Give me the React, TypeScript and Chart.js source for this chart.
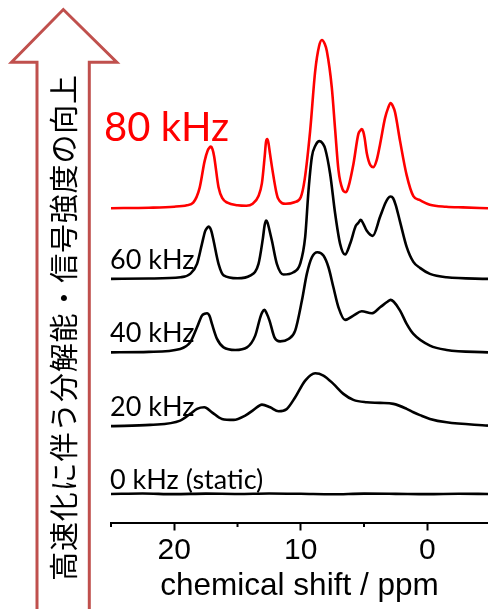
import React, { useEffect, useRef } from 'react';
import { Chart, registerables } from 'chart.js';

Chart.register(...registerables);

// chemical shift (ppm) and intensity (a.u., relative to each trace's baseline)
const ppm80 = [25, 22, 20, 19, 18.5, 18.0, 17.6, 17.35, 17.22, 17.1, 16.98, 16.85, 16.5, 16.2, 15.8, 15.0, 14.3, 13.8, 13.35, 13.07, 12.85, 12.75, 12.65, 12.55, 12.45, 12.23, 11.95, 11.8, 11.2, 10.5, 10.0, 9.7, 9.26, 8.86, 8.55, 8.33, 8.1, 7.94, 7.55, 7.28, 7.02, 6.7, 6.42, 6.24, 5.84, 5.45, 5.3, 5.18, 5.06, 4.95, 4.78, 4.5, 4.26, 4.0, 3.73, 3.34, 3.1, 2.9, 2.72, 2.55, 2.15, 1.63, 1.1, 0.58, -0.2, -1.5, -2.8, -4.8];
const int80 = [0, 0.5, 1.5, 3, 5.5, 20, 47, 58, 60.5, 61.5, 59, 52, 21, 10, 5.5, 3, 2.5, 4.5, 12, 25, 52, 66, 69, 65, 56, 37.5, 17, 10, 4.5, 6, 11, 28, 77, 137, 162, 168, 164, 157, 121, 78, 38, 19, 16, 21, 44, 74, 77.5, 79, 76.5, 70, 55, 43, 41, 48, 64, 90, 100, 105, 102, 96, 67, 33, 12, 8, 3.5, 1.5, 0.8, 0];

const ppm60 = [25, 22, 19.5, 18.74, 18.2, 17.81, 17.55, 17.4, 17.29, 17.17, 17.05, 16.89, 16.5, 16.1, 15.0, 14.0, 13.34, 13.0, 12.85, 12.73, 12.62, 12.5, 12.28, 11.89, 11.37, 10.58, 10.05, 9.65, 9.39, 9.12, 8.85, 8.52, 8.25, 8.07, 7.68, 7.28, 6.89, 6.5, 6.1, 5.65, 5.45, 5.26, 5.05, 4.78, 4.31, 3.73, 3.3, 3.1, 2.9, 2.7, 2.5, 2.15, 1.63, 1.1, 0.58, -0.21, -1.53, -4.8];
const int60 = [0, 0.3, 1.6, 5, 15, 35, 48, 51, 52.3, 51, 47, 38, 15, 3.5, 0.6, 3.3, 15, 40, 54, 58.3, 56, 50, 38, 15, 4.3, 6.6, 15, 42, 88, 122, 133, 137.6, 135, 130, 105, 65, 35, 24.3, 35, 53, 56, 59, 55, 48, 43, 62, 76, 80.5, 82.3, 80.5, 74, 57, 32, 17, 11, 5, 1.6, 0];

const ppm40 = [25, 22, 19.53, 18.74, 18.2, 17.81, 17.6, 17.41, 17.2, 17.02, 16.62, 16.1, 15.18, 14.25, 13.6, 13.2, 13.05, 12.87, 12.7, 12.47, 12.08, 11.63, 10.97, 10.44, 9.91, 9.52, 9.12, 8.68, 8.21, 7.81, 7.42, 7.02, 6.5, 5.84, 5.18, 4.39, 3.73, 3.15, 2.9, 2.65, 2.15, 1.63, 1.1, -0.21, -1.53, -4.8];
const int40 = [0, 0.5, 3.4, 10, 25, 36.7, 38.5, 39, 36, 28.4, 13.4, 5, 2.4, 5, 16.7, 35, 40, 42.4, 39, 31.7, 15, 11, 13.4, 21.7, 51.7, 78.4, 95, 100, 96.7, 85, 65, 45, 32.4, 36.7, 41, 39, 45, 50.5, 52.4, 50.5, 41.7, 28.4, 18.4, 6.7, 2.4, 0];

const ppm20 = [25, 21.9, 19.53, 18.74, 18.2, 17.62, 17.02, 16.23, 15.31, 14.39, 13.73, 13.07, 12.42, 11.76, 11.1, 10.44, 9.65, 8.86, 8.21, 7.42, 6.63, 5.84, 4.78, 3.73, 2.68, 1.63, 1.1, 0.58, -0.21, -1.53, -4.8];
const int20 = [0, 1.2, 5.5, 12.2, 17.2, 18.8, 13.8, 7.2, 6.2, 10.5, 16.2, 21.5, 18.8, 14.8, 17.2, 28.8, 45.5, 52.8, 50.5, 42.2, 32.2, 26.2, 23.8, 23.2, 22.2, 17.2, 13.8, 11, 7.2, 3.8, 0.5];

const ppm0 = [25, 22.5, 20, 17.5, 15, 12.5, 10, 7.5, 5, 2.5, 0, -2.5, -4.8];
const int0 = [0, 0.4, -0.2, 0.3, 0, 0.5, 0.2, -0.3, 0.3, 0.1, -0.2, 0.2, 0];

const spectrumLabels = ['80 kHz', '60 kHz', '40 kHz', '20 kHz', '0 kHz (static)'];
const spectrumOffsets = [314, 243.4, 170, 96.3, 28.5];
const tickValues = [20, 10, 0];
const minorTickValues = [25, 15, 5, -5];
const xTitle = 'chemical shift / ppm';
const arrowText = '高速化に伴う分解能・信号強度の向上';

const traces = [
  { ppm: ppm80, inten: int80, color: '#ff0000' },
  { ppm: ppm60, inten: int60, color: '#000000' },
  { ppm: ppm40, inten: int40, color: '#000000' },
  { ppm: ppm20, inten: int20, color: '#000000' },
  { ppm: ppm0, inten: int0, color: '#000000' },
];

const labelStyle = [
  { gap: 67.5, size: 40, color: '#ff0000', x: 104 },
  { gap: 10, size: 27, color: '#000000', x: 110 },
  { gap: 10, size: 27, color: '#000000', x: 110 },
  { gap: 10.5, size: 27, color: '#000000', x: 110 },
  { gap: 5, size: 27, color: '#000000', x: 110 },
];

const decorPlugin = {
  id: 'decor',
  afterDraw(chart: any) {
    const ctx = chart.ctx as CanvasRenderingContext2D;
    const xs = chart.scales.x;
    const ys = chart.scales.y;
    const yb = chart.chartArea.bottom;
    ctx.save();
    // minor ticks
    ctx.strokeStyle = '#000';
    ctx.lineWidth = 2;
    minorTickValues.forEach((v) => {
      const px = xs.getPixelForValue(v);
      ctx.beginPath();
      ctx.moveTo(px, yb);
      ctx.lineTo(px, yb + 4.5);
      ctx.stroke();
    });
    // trace labels
    spectrumLabels.forEach((t, i) => {
      const st = labelStyle[i];
      const py = ys.getPixelForValue(spectrumOffsets[i]) - st.gap;
      ctx.font = `${st.size}px Lato, "Open Sans", sans-serif`;
      ctx.fillStyle = st.color;
      ctx.textAlign = 'left';
      ctx.textBaseline = 'alphabetic';
      ctx.fillText(t, st.x, py);
    });
    // arrow
    ctx.beginPath();
    ctx.moveTo(37, 620);
    ctx.lineTo(37, 62.3);
    ctx.lineTo(11.5, 62.3);
    ctx.lineTo(63.3, 9.5);
    ctx.lineTo(116.8, 62.3);
    ctx.lineTo(89.3, 62.3);
    ctx.lineTo(89.3, 620);
    ctx.fillStyle = '#ffffff';
    ctx.fill();
    ctx.strokeStyle = '#c0504d';
    ctx.lineWidth = 3;
    ctx.lineJoin = 'miter';
    ctx.stroke();
    // arrow text
    ctx.translate(64, 327.5);
    ctx.rotate(-Math.PI / 2);
    ctx.font = '29px "Noto Sans CJK JP", sans-serif';
    (ctx as any).letterSpacing = '0.8px';
    ctx.fillStyle = '#000';
    ctx.textAlign = 'center';
    ctx.textBaseline = 'middle';
    ctx.fillText(arrowText, 0, 0);
    ctx.restore();
  },
};

export default function App() {
  const ref = useRef<HTMLCanvasElement>(null);
  useEffect(() => {
    if (!ref.current) return;
    const chart = new Chart(ref.current, {
      type: 'line',
      data: {
        datasets: traces.map((tr, i) => ({
          label: spectrumLabels[i],
          data: tr.ppm.map((p, j) => ({ x: p, y: spectrumOffsets[i] + tr.inten[j] })),
          borderColor: tr.color,
          borderWidth: 2.6,
          pointRadius: 0,
          fill: false,
          cubicInterpolationMode: 'monotone' as const,
        })),
      },
      options: {
        responsive: false,
        animation: false,
        events: [],
        layout: { padding: { left: 111, right: 0, top: 0, bottom: 7 } },
        plugins: { legend: { display: false }, tooltip: { enabled: false } },
        scales: {
          x: {
            type: 'linear',
            min: -4.8,
            max: 25,
            reverse: true,
            afterBuildTicks: (axis: any) => {
              axis.ticks = tickValues.map((v) => ({ value: v }));
            },
            grid: { display: true, drawOnChartArea: false, drawTicks: true, tickLength: 8, tickColor: '#000', tickWidth: 2 },
            border: { display: true, color: '#000', width: 2 },
            ticks: {
              color: '#000',
              padding: 5,
              maxRotation: 0,
              autoSkip: false,
              font: { family: '"Liberation Sans", Arial, sans-serif', size: 30, lineHeight: 1 },
            },
            title: {
              display: true,
              text: xTitle,
              color: '#000',
              font: { family: '"Liberation Sans", Arial, sans-serif', size: 31.5, lineHeight: 1 },
              padding: { top: 0, bottom: 0 },
            },
          },
          y: { type: 'linear', display: false, min: 0, max: 522 },
        },
      },
      plugins: [decorPlugin],
    });
    return () => chart.destroy();
  }, []);
  return (
    <div style={{ position: 'absolute', left: 0, top: 0, width: 488, height: 609, background: '#fff' }}>
      <canvas ref={ref} width={488} height={609} style={{ width: 488, height: 609, display: 'block' }} />
    </div>
  );
}
